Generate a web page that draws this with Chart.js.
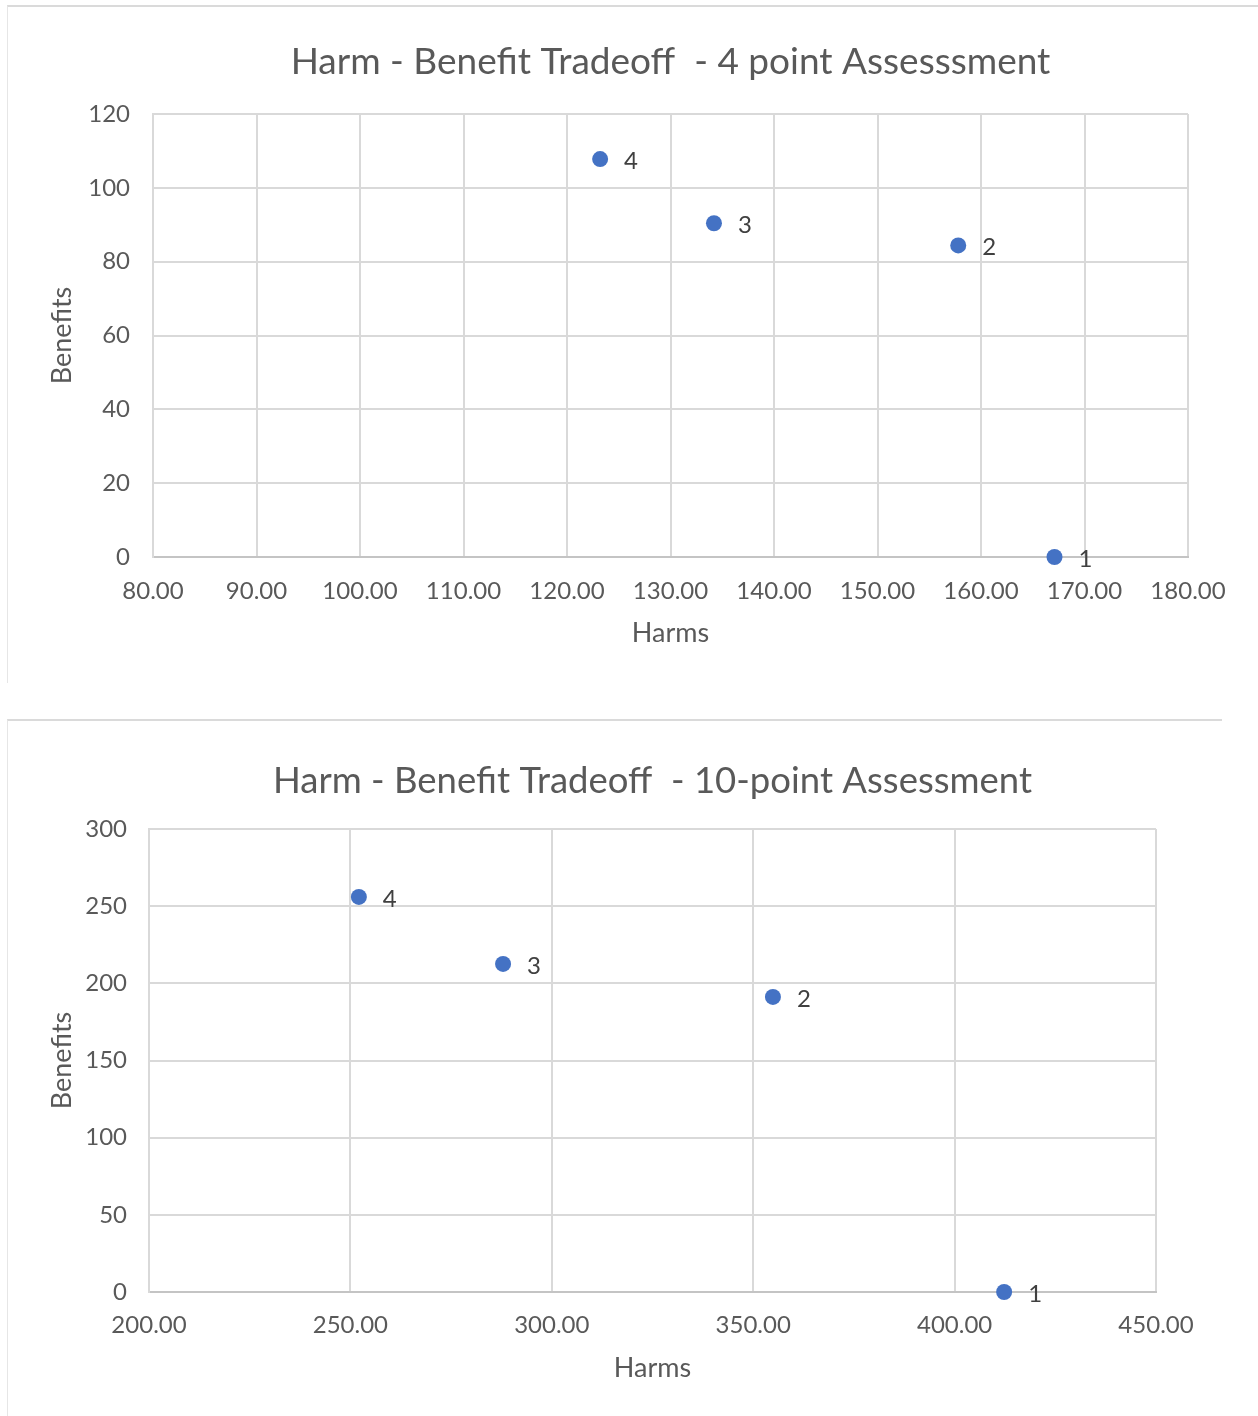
<!DOCTYPE html>
<html>
<head>
<meta charset="utf-8">
<title>Harm - Benefit Tradeoff</title>
<script src="https://cdn.jsdelivr.net/npm/chart.js@4.4.1/dist/chart.umd.min.js"></script>
<style>
  html, body { margin: 0; padding: 0; background: #ffffff; }
  body { width: 1258px; height: 1416px; position: relative; overflow: hidden; }
  .panel { position: absolute; border-top: 2px solid #dadada; border-left: 1px solid #e6e6e6; }
  #panel4 { left: 7px; top: 5px; width: 1250px; height: 676px; }
  #panel10 { left: 7px; top: 719px; width: 1214px; height: 695px; }
  canvas { display: block; }
</style>
</head>
<body>
<div class="panel" id="panel4"><canvas id="chart4" width="1250" height="676"></canvas></div>
<div class="panel" id="panel10"><canvas id="chart10" width="1214" height="695"></canvas></div>

<script>
// Assessment numbers shown next to each point
const pointLabels = ['1', '2', '3', '4'];

// 4 point assessment
const harms4 = [167.1, 157.8, 134.2, 123.2];
const benefits4 = [0, 84.4, 90.4, 107.8];
const harmTicks4 = [80, 90, 100, 110, 120, 130, 140, 150, 160, 170, 180];
const benefitTicks4 = [0, 20, 40, 60, 80, 100, 120];
const title4 = 'Harm - Benefit Tradeoff  - 4 point Assesssment';

// 10-point assessment
const harms10 = [412.3, 354.9, 287.9, 252.1];
const benefits10 = [0, 191.2, 212.6, 256];
const harmTicks10 = [200, 250, 300, 350, 400, 450];
const benefitTicks10 = [0, 50, 100, 150, 200, 250, 300];
const title10 = 'Harm - Benefit Tradeoff  - 10-point Assessment';

const xTitle = 'Harms';
const yTitle = 'Benefits';

const FONT = 'Lato, "Open Sans", "DejaVu Sans", sans-serif';
const TEXT = '#595959';
const GRID = '#d9d9d9';
const DOT = '#4472C4';

// Writes the assessment number to the right of each point
const pointNumberPlugin = {
  id: 'pointNumbers',
  afterDatasetsDraw(chart) {
    const ctx = chart.ctx;
    const meta = chart.getDatasetMeta(0);
    ctx.save();
    ctx.font = '24px ' + FONT;
    ctx.fillStyle = '#404040';
    ctx.textAlign = 'left';
    ctx.textBaseline = 'middle';
    meta.data.forEach((pt, i) => {
      ctx.fillText(pointLabels[i], pt.x + 24, pt.y + 2);
    });
    ctx.restore();
  }
};

function buildChart(id, cfg) {
  const points = cfg.harms.map((h, i) => ({ x: h, y: cfg.benefits[i] }));
  return new Chart(document.getElementById(id), {
    type: 'scatter',
    data: {
      datasets: [{
        data: points,
        pointRadius: 8,
        pointHoverRadius: 8,
        pointBackgroundColor: DOT,
        pointBorderColor: DOT,
        pointBorderWidth: 0,
        clip: false
      }]
    },
    options: {
      responsive: false,
      animation: false,
      events: [],
      layout: { padding: { left: 0, right: cfg.padRight, top: 0, bottom: 0 } },
      plugins: {
        legend: { display: false },
        tooltip: { enabled: false },
        title: {
          display: true,
          text: cfg.title,
          fullSize: false,
          color: TEXT,
          font: { family: FONT, size: cfg.titleSize, weight: 'normal', lineHeight: 1.2 },
          padding: { top: cfg.titleTop, bottom: cfg.titleBottom }
        }
      },
      scales: {
        x: {
          type: 'linear',
          min: cfg.xTicks[0],
          max: cfg.xTicks[cfg.xTicks.length - 1],
          afterBuildTicks: s => { s.ticks = cfg.xTicks.map(v => ({ value: v })); },
          afterFit: s => { s.height = cfg.xAxisHeight; },
          grid: { color: GRID, lineWidth: 2, drawTicks: false },
          border: { color: '#c4c4c4', width: 2 },
          ticks: {
            color: TEXT,
            padding: cfg.xTickPad,
            maxRotation: 0,
            autoSkip: false,
            font: { family: FONT, size: 24, lineHeight: 1.2 },
            callback: v => Number(v).toFixed(2)
          },
          title: {
            display: true,
            text: xTitle,
            color: TEXT,
            font: { family: FONT, size: 27, lineHeight: 1.2 },
            padding: { top: 0, bottom: cfg.xTitlePad }
          }
        },
        y: {
          type: 'linear',
          min: cfg.yTicks[0],
          max: cfg.yTicks[cfg.yTicks.length - 1],
          afterBuildTicks: s => { s.ticks = cfg.yTicks.map(v => ({ value: v })); },
          afterFit: s => { s.width = cfg.yAxisWidth; },
          grid: { color: GRID, lineWidth: 2, drawTicks: false },
          border: { color: GRID, width: 2 },
          ticks: {
            color: TEXT,
            padding: cfg.yTickPad,
            autoSkip: false,
            font: { family: FONT, size: 24, lineHeight: 1.2 },
            callback: v => String(v)
          },
          title: {
            display: true,
            text: yTitle,
            color: TEXT,
            font: { family: FONT, size: 27, lineHeight: 1.2 },
            padding: { top: cfg.yTitlePad, bottom: 0 }
          }
        }
      }
    },
    plugins: [pointNumberPlugin]
  });
}

buildChart('chart4', {
  harms: harms4, benefits: benefits4,
  xTicks: harmTicks4, yTicks: benefitTicks4, title: title4,
  padRight: 70, titleSize: 37, titleTop: 32.8, titleBottom: 29.8,
  xAxisHeight: 126, xTickPad: 19.4, xTitlePad: 33.8,
  yAxisWidth: 145, yTickPad: 23, yTitlePad: 37.8
});

buildChart('chart10', {
  harms: harms10, benefits: benefits10,
  xTicks: harmTicks10, yTicks: benefitTicks10, title: title10,
  padRight: 66, titleSize: 36.5, titleTop: 38.1, titleBottom: 26.1,
  xAxisHeight: 124, xTickPad: 18.4, xTitlePad: 31.8,
  yAxisWidth: 141, yTickPad: 22, yTitlePad: 37.8
});
</script>
</body>
</html>
